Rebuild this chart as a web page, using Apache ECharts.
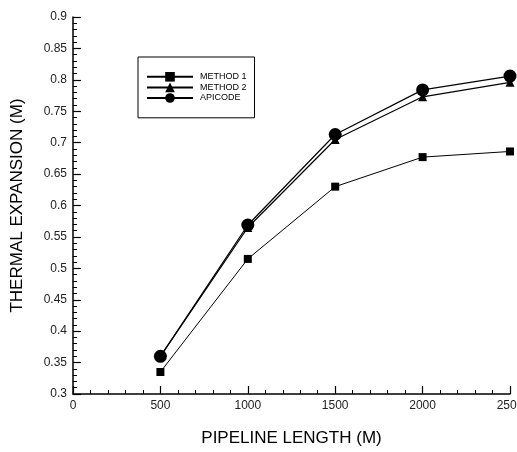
<!DOCTYPE html>
<html>
<head>
<meta charset="utf-8">
<script src="https://cdn.jsdelivr.net/npm/echarts@6/dist/echarts.min.js"></script>
<style>
  html, body { margin: 0; padding: 0; background: #fff; }
  #main { width: 517px; height: 452px; }
</style>
</head>
<body>
<div id="main"></div>
<script>
var lengths = [500, 1000, 1500, 2000, 2500];
var method1 = [0.335, 0.515, 0.630, 0.677, 0.686];
var method2 = [0.360, 0.565, 0.705, 0.773, 0.796];
var apicode = [0.360, 0.569, 0.713, 0.784, 0.806];

function pairs(vals) {
  return lengths.map(function (x, i) { return [x, vals[i]]; });
}

var chart = echarts.init(document.getElementById('main'));
var font = 'Liberation Sans, Arial, sans-serif';

var option = {
  animation: false,
  backgroundColor: '#fff',
  grid: { left: 73, right: 7, top: 17, bottom: 58, outerBoundsMode: 'none', containLabel: false },
  legend: {
    orient: 'vertical',
    left: 138,
    top: 57,
    padding: [15, 8, 15, 8],
    itemGap: 1,
    itemWidth: 46,
    itemHeight: 12,
    borderColor: '#000',
    borderWidth: 1,
    textStyle: { fontFamily: font, fontSize: 9, color: '#000', padding: [0, 0, 0, 2] },
    data: ['METHOD 1', 'METHOD 2', 'APICODE']
  },
  xAxis: {
    type: 'value',
    min: 0, max: 2500, interval: 500,
    name: 'PIPELINE LENGTH (M)',
    nameLocation: 'middle',
    nameGap: 36,
    nameTextStyle: { fontFamily: font, fontSize: 17, color: '#000' },
    axisLine: { lineStyle: { color: '#000', width: 1.5 } },
    axisTick: { inside: true, length: 8, lineStyle: { color: '#000', width: 1.2 } },
    minorTick: { show: true, splitNumber: 5, length: 4, lineStyle: { color: '#000' } },
    axisLabel: {
      fontFamily: font, fontSize: 12, color: '#222', margin: 6,
      showMaxLabel: true,
      formatter: function (v) { return String(v); }
    },
    splitLine: { show: false }
  },
  yAxis: {
    type: 'value',
    min: 0.3, max: 0.9, interval: 0.05,
    name: 'THERMAL EXPANSION (M)',
    nameLocation: 'middle',
    nameGap: 47,
    nameTextStyle: { fontFamily: font, fontSize: 17, color: '#000' },
    axisLine: { show: true, lineStyle: { color: '#000', width: 1.5 } },
    axisTick: { inside: true, length: 8, lineStyle: { color: '#000', width: 1.2 } },
    minorTick: { show: true, splitNumber: 5, length: 4, lineStyle: { color: '#000' } },
    axisLabel: {
      fontFamily: font, fontSize: 12, color: '#222', margin: 6,
      formatter: function (v) { return String(Math.round(v * 100) / 100); }
    },
    splitLine: { show: false }
  },
  series: [
    {
      name: 'METHOD 1', type: 'line', data: pairs(method1),
      symbol: 'rect', symbolSize: 8,
      lineStyle: { color: '#000', width: 1 },
      itemStyle: { color: '#000' }
    },
    {
      name: 'METHOD 2', type: 'line', data: pairs(method2),
      symbol: 'triangle', symbolSize: 9,
      lineStyle: { color: '#000', width: 1.2 },
      itemStyle: { color: '#000' }
    },
    {
      name: 'APICODE', type: 'line', data: pairs(apicode),
      symbol: 'circle', symbolSize: 13,
      lineStyle: { color: '#000', width: 1.2 },
      itemStyle: { color: '#000' }
    }
  ]
};

chart.setOption(option);
</script>
</body>
</html>
